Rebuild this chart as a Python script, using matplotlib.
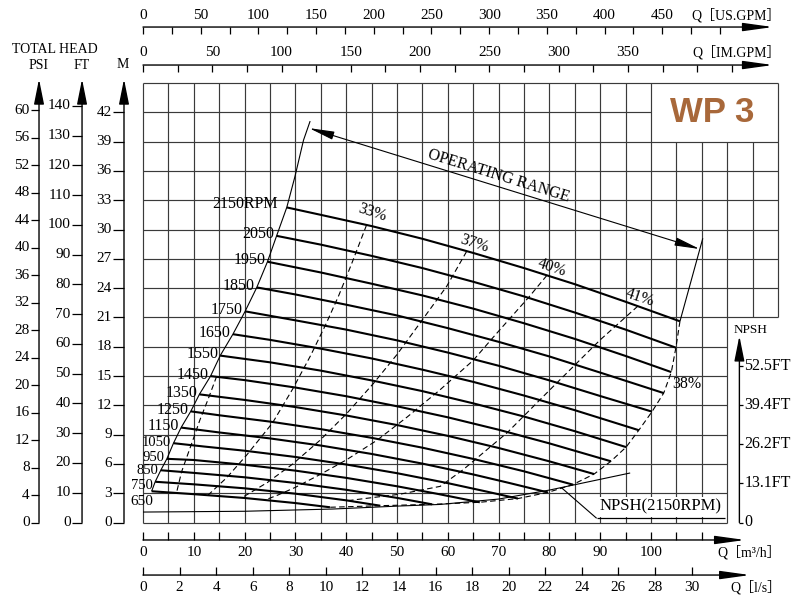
import math
import numpy as np
import matplotlib.pyplot as plt
from matplotlib import font_manager

# pump curves: flow Q in m3/h, head H in m
speeds = [2150, 2050, 1950, 1850, 1750, 1650, 1550, 1450,
          1350, 1250, 1150, 1050, 950, 850, 750, 650]
speed_q = [
    [28.3, 35, 45, 55, 65, 75, 85, 95, 105.7],
    [26.3, 35, 45, 55, 65, 75, 85, 95, 104.9],
    [24.5, 35, 45, 55, 65, 75, 85, 95, 104.0],
    [22.4, 30, 40, 50, 60, 70, 80, 90, 102.5],
    [20.1, 30, 40, 50, 60, 70, 80, 90, 100.2],
    [17.7, 25, 35, 45, 55, 65, 75, 85, 97.6],
    [15.2, 25, 35, 45, 55, 65, 75, 85, 95.1],
    [13.3, 20, 30, 40, 50, 60, 70, 80, 92.1],
    [11.1, 20, 30, 40, 50, 60, 70, 80, 88.8],
    [9.4, 15, 25, 35, 45, 55, 65, 75, 84.6],
    [7.5, 15, 25, 35, 45, 55, 65, 72, 79.7],
    [6.0, 12, 20, 30, 40, 50, 60, 67, 73.8],
    [4.7, 10, 20, 30, 40, 50, 58, 66.3],
    [3.5, 10, 20, 30, 40, 50, 56.9],
    [2.4, 10, 20, 30, 40, 46.7],
    [1.7, 10, 20, 30, 36.8],
]
speed_h = [
    [32.26, 31.5, 30.35, 29.05, 27.6, 26.05, 24.4, 22.6, 20.6],
    [29.35, 28.45, 27.3, 26.05, 24.65, 23.15, 21.5, 19.75, 17.9],
    [26.7, 25.6, 24.45, 23.25, 21.9, 20.4, 18.8, 17.05, 15.4],
    [24.07, 23.35, 22.3, 21.2, 19.9, 18.5, 17.0, 15.35, 13.25],
    [21.62, 20.7, 19.75, 18.65, 17.4, 16.05, 14.55, 12.95, 11.35],
    [19.28, 18.7, 17.8, 16.8, 15.65, 14.4, 13.0, 11.5, 9.45],
    [17.09, 16.4, 15.55, 14.55, 13.45, 12.2, 10.85, 9.35, 7.72],
    [14.99, 14.58, 13.82, 12.93, 11.9, 10.77, 9.5, 8.1, 6.27],
    [13.12, 12.55, 11.82, 10.96, 9.98, 8.87, 7.63, 6.26, 4.96],
    [11.38, 10.98, 10.33, 9.56, 8.67, 7.66, 6.51, 5.24, 3.88],
    [9.72, 9.22, 8.61, 7.88, 7.02, 6.03, 4.92, 4.06, 3.08],
    [8.12, 7.78, 7.35, 6.71, 5.94, 5.05, 4.03, 3.24, 2.45],
    [6.52, 6.4, 5.91, 5.31, 4.57, 3.71, 2.93, 2.07],
    [5.35, 5.08, 4.63, 4.05, 3.35, 2.52, 1.86],
    [4.17, 3.91, 3.5, 2.95, 2.27, 1.72],
    [3.2, 2.9, 2.51, 1.99, 1.56],
]

# operating range limits
left_q = [1.7, 2.4, 3.5, 4.7, 6.0, 7.5, 9.4, 11.1, 13.3, 15.2, 17.7, 20.1,
          22.4, 24.5, 26.3, 28.3, 29.9, 31.6, 32.9]
left_h = [3.2, 4.17, 5.35, 6.52, 8.12, 9.72, 11.38, 13.12, 14.99, 17.09, 19.28,
          21.62, 24.07, 26.7, 29.35, 32.26, 35.4, 39.15, 41.1]
right_q = [105.7, 110.2]
right_h = [20.6, 29.1]
range_q = [32.7, 109.6]
range_h = [40.38, 28.0]

# iso-efficiency lines
eff38_q = [105.7, 104.9, 104.0, 102.5, 100.2, 97.6, 95.1, 92.1, 88.8, 84.6,
           79.7, 73.8, 66.3, 56.9, 46.7, 36.8]
eff38_h = [20.6, 17.9, 15.4, 13.25, 11.35, 9.45, 7.72, 6.27, 4.96, 3.88,
           3.08, 2.45, 2.07, 1.86, 1.72, 1.56]
eff_names = ["33%", "37%", "40%", "41%"]
eff_q = [
    [44.0, 41.0, 38.5, 36.0, 33.0, 29.5, 25.5, 20.4, 16.5, 12.8],
    [63.7, 59.8, 54.5, 50.0, 45.3, 40.0, 34.8, 29.5, 24.5, 19.5],
    [79.5, 76.0, 73.6, 69.0, 65.0, 58.5, 52.0, 46.0, 40.0, 34.8, 30.0, 26.5, 24.0],
    [97.4, 90.0, 80.7, 71.7, 63.0, 58.5, 50.6, 40.5],
]
eff_h = [
    [30.45, 26.4, 23.2, 20.3, 17.1, 13.7, 10.2, 6.9, 4.6, 2.8],
    [27.75, 24.2, 20.4, 17.2, 14.2, 11.1, 8.4, 6.0, 4.1, 2.55],
    [25.3, 23.1, 21.7, 19.0, 16.6, 13.6, 10.8, 8.4, 6.4, 4.9, 3.6, 2.8, 2.3],
    [22.15, 18.7, 13.9, 9.2, 5.4, 3.7, 2.9, 2.25],
]
eff_low_q = [14.5, 12.8, 11.2, 10.0, 8.9, 7.6, 6.6]
eff_low_h = [14.97, 12.6, 10.5, 8.7, 7.1, 5.2, 3.05]

# NPSH required at 2150 rpm
npsh_q = [0, 20, 37.4, 50.6, 58.5, 70, 80.1, 88, 95.9]
npsh_h = [1.07, 1.15, 1.38, 1.69, 1.85, 2.4, 3.33, 4.2, 5.07]

# scale values
us_gpm_ticks = list(range(0, 501, 25))
us_gpm_labels = list(range(0, 451, 50))
im_gpm_ticks = list(range(0, 426, 25))
im_gpm_labels = list(range(0, 351, 50))
m3h_ticks = list(range(0, 111, 5))
m3h_labels = list(range(0, 101, 10))
ls_ticks = list(range(0, 31, 2))
psi_ticks = list(range(0, 61, 4))
ft_ticks = list(range(0, 141, 10))
m_ticks = list(range(0, 43, 3))
npsh_ticks = [0, 4, 8, 12, 16]
npsh_labels = ["0", "13.1FT", "26.2FT", "39.4FT", "52.5FT"]

US_GPM = 4.403   # US gpm per m3/h
IM_GPM = 3.666   # imp. gpm per m3/h
LS = 3.6         # m3/h per l/s
FT = 0.3048
PSI = 0.7031

plt.rcParams["font.family"] = ["Liberation Serif", "Noto Sans CJK SC", "DejaVu Sans"]
names = {f.name for f in font_manager.fontManager.ttflist}
wp_font = "Liberation Sans Narrow" if "Liberation Sans Narrow" in names else "Liberation Sans"

fig = plt.figure(figsize=(8.01, 5.97), dpi=100)
ax = fig.add_axes([143 / 801, 74.5 / 597, 635 / 801, 439.5 / 597])
ax.set_xlim(0, 125)
ax.set_ylim(0, 45)
ax.axis("off")

K = "black"


def line(xs, ys, **kw):
    kw.setdefault("color", K)
    kw.setdefault("lw", 0.9)
    ax.plot(xs, ys, clip_on=False, solid_capstyle="butt", **kw)


def arrow(x0, y0, x1, y1, hl=0.9, hw=0.2, lw=1.0, style="-|>"):
    ax.annotate("", xy=(x1, y1), xytext=(x0, y0), annotation_clip=False,
                arrowprops=dict(arrowstyle=f"{style},head_length={hl},head_width={hw}",
                                lw=lw, color=K, shrinkA=0, shrinkB=0,
                                mutation_scale=14))


# grid, with the notch for the model box and the NPSH scale
grid = dict(color="#3a3a3a", lw=0.85, zorder=1)
for q in range(0, 126, 5):
    lo = 21 if q > 115 else 0
    hi = 39 if 100 < q < 125 else 45
    line([q, q], [lo, hi], **grid)
for h in range(0, 46, 3):
    end = 115 if h < 21 else 125
    if h == 42:
        end = 100
    line([0, end], [h, h], **grid)

ax.text(112.0, 42.0, "WP 3", ha="center", va="center", fontsize=25,
        fontweight="bold", color="#a8683a", family=wp_font)

# head curves with their speed labels
low_dy = {1050: 0.1, 950: 0.1, 850: 0.0, 750: -0.35}
for rpm, q, h in zip(speeds, speed_q, speed_h):
    line(q, h, lw=1.5, zorder=3)
    if rpm == 2150:
        ax.text(q[0] - 1.7, h[0] + 0.4, "2150RPM", ha="right", va="center", fontsize=11.5)
    elif rpm == 650:
        ax.text(q[0] - 2.0, h[0] - 1.05, "650", ha="center", va="center", fontsize=11)
    elif rpm in low_dy:
        ax.text(q[0] - 0.4, h[0] + low_dy[rpm], str(rpm), ha="right", va="center",
                fontsize=10.5)
    else:
        ax.text(q[0] - 0.4, h[0] + 0.15, str(rpm), ha="right", va="center", fontsize=11.5)

# limits of the operating range
line(left_q, left_h, lw=0.8, zorder=3)
line(right_q, right_h, lw=0.8, zorder=3)
arrow(np.mean(range_q), np.mean(range_h), range_q[0], range_h[0], hl=1.1, hw=0.18, lw=0.8)
arrow(np.mean(range_q), np.mean(range_h), range_q[1], range_h[1], hl=1.1, hw=0.18, lw=0.8)
p0 = ax.transData.transform((range_q[0], range_h[0]))
p1 = ax.transData.transform((range_q[1], range_h[1]))
ang = math.degrees(math.atan2(p1[1] - p0[1], p1[0] - p0[0]))
ax.text(70.1, 35.45, "OPERATING RANGE", rotation=ang, rotation_mode="anchor",
        ha="center", va="center", fontsize=11.5)

# efficiency lines
dash = (0, (5, 3))
line(eff38_q, eff38_h, lw=0.8, ls=dash, zorder=2)
line(eff_low_q, eff_low_h, lw=0.8, ls=dash, zorder=2)
for q, h in zip(eff_q, eff_h):
    line(q, h, lw=0.8, ls=dash, zorder=2)
eff_pos = [(45.1, 31.7), (65.2, 28.5), (80.5, 26.1), (97.8, 23.0)]
for name, (x, y) in zip(eff_names, eff_pos):
    ax.text(x, y, name, rotation=-18, ha="center", va="center", fontsize=11.5)
ax.text(107.0, 14.2, "38%", ha="center", va="center", fontsize=11.5)

# NPSH curve and its label
line(npsh_q, npsh_h, lw=0.8, zorder=3)
line([82.4, 89.3], [3.55, 0.43], lw=0.8, zorder=4)
ax.text(89.8, 1.6, "NPSH(2150RPM)", ha="left", va="center", fontsize=12, zorder=4,
        bbox=dict(fc="white", ec="none", pad=1.5))
line([89.3, 114.6], [0.43, 0.43], lw=0.9, zorder=5)

# NPSH scale
npsh_x = 117.4
arrow(npsh_x, 0, npsh_x, 19.1, hl=1.1, hw=0.22)
for v, lab in zip(npsh_ticks, npsh_labels):
    line([npsh_x, npsh_x + 0.8], [v, v])
    ax.text(npsh_x + 1.0, v, lab, ha="left", va="center", fontsize=11.5)
ax.text(119.6, 19.75, "NPSH", ha="center", va="center", fontsize=9.5)

# head scales on the left
fs = 11
head_scales = [
    (-20.47, [v * PSI for v in psi_ticks], psi_ticks, 1.6),
    (-12.0, [v * FT for v in ft_ticks], ft_ticks, 2.0),
    (-3.74, m_ticks, m_ticks, 2.15),
]
for x, pos, labs, tl in head_scales:
    arrow(x, 0, x, 45.4, hl=1.1, hw=0.22)
    for v, lab in zip(pos, labs):
        line([x - tl, x], [v, v])
        ax.text(x - tl - 0.25, v, str(lab), ha="right", va="center", fontsize=fs)
ax.text(-17.3, 48.4, "TOTAL HEAD", ha="center", va="center", fontsize=10)
ax.text(-20.5, 46.75, "PSI", ha="center", va="center", fontsize=10)
ax.text(-12.0, 46.75, "FT", ha="center", va="center", fontsize=10)
ax.text(-3.9, 46.9, "M", ha="center", va="center", fontsize=10)

# flow scales on top
top_scales = [
    (50.73, 51.96, US_GPM, us_gpm_ticks, us_gpm_labels, "Q［US.GPM］"),
    (46.84, 48.17, IM_GPM, im_gpm_ticks, im_gpm_labels, "Q［IM.GPM］"),
]
for y, ty, f, ticks, labs, title in top_scales:
    arrow(0, y, 124.0, y, hl=1.3, hw=0.18)
    for v in ticks:
        line([v / f, v / f], [y, y - 0.7])
    for v in labs:
        ax.text(v / f, ty, str(v), ha="center", va="center", fontsize=fs)
    ax.text(125.6, ty, title, ha="right", va="center", fontsize=10)

# flow scales at the bottom
y = -1.79
arrow(0, y, 118.5, y, hl=1.3, hw=0.18)
for v in m3h_ticks:
    line([v, v], [y, y + 0.82])
for v in m3h_labels:
    ax.text(v, -3.05, str(v), ha="center", va="center", fontsize=fs)
ax.text(125.6, -3.05, "Q［m³/h］", ha="right", va="center", fontsize=10)

y = -5.38
arrow(0, y, 119.5, y, hl=1.3, hw=0.18)
for v in ls_ticks:
    line([v * LS, v * LS], [y, y + 0.82])
    ax.text(v * LS, -6.62, str(v), ha="center", va="center", fontsize=fs)
ax.text(125.6, -6.62, "Q［l/s］", ha="right", va="center", fontsize=10)

fig.savefig("out.png", dpi=100)
